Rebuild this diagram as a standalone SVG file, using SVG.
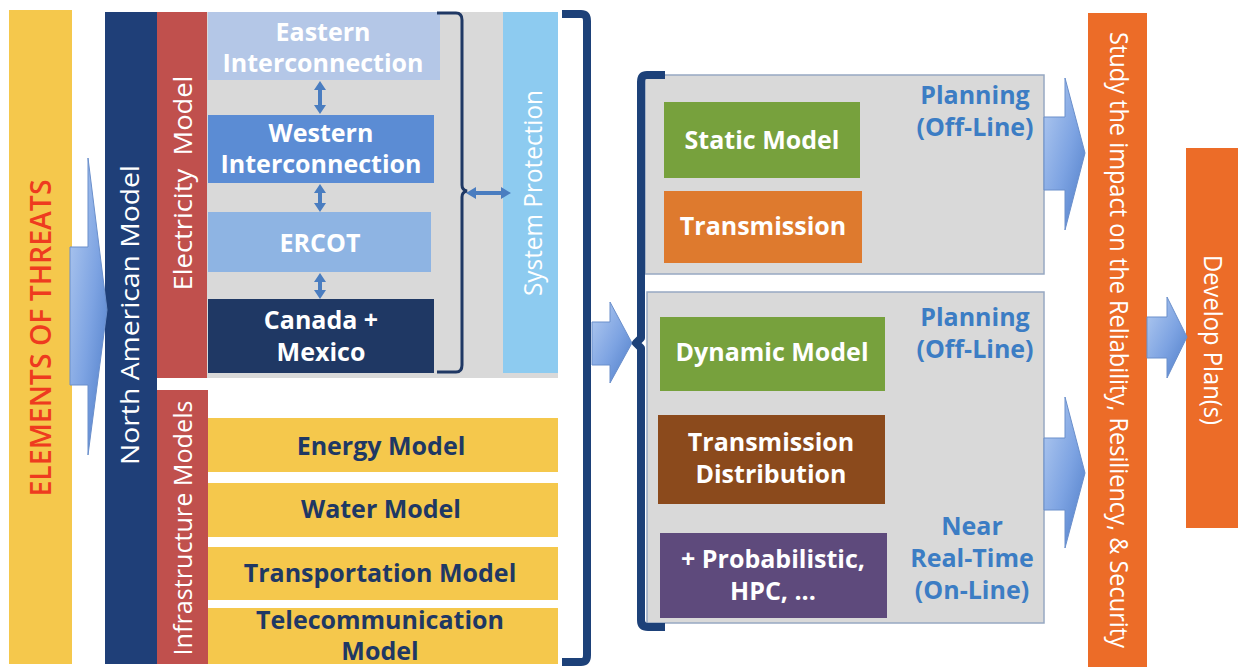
<svg xmlns="http://www.w3.org/2000/svg" width="1243" height="669" viewBox="0 0 1243 669">
<defs>
<linearGradient id="ag" x1="0" y1="0" x2="1" y2="1">
<stop offset="0" stop-color="#B4CCF1"/>
<stop offset="0.55" stop-color="#7DA3E2"/>
<stop offset="1" stop-color="#4C7BC7"/>
</linearGradient>
</defs>
<style>
text{font-family:"Open Sans","Liberation Sans",sans-serif;}
.b{font-weight:700;font-size:25px;text-anchor:middle;}
.w{fill:#FFFFFF;}
.n{fill:#1F3864;}
.p{fill:#3C7DC4;}
.v{font-size:26px;fill:#FFFFFF;text-anchor:middle;}
.arr{fill:url(#ag);stroke:#6A8FCB;stroke-width:1;}
.dbl{fill:#4A7DC0;}
.brk{fill:none;stroke:#1D4179;stroke-width:8;stroke-linejoin:round;}
.brace{fill:none;stroke:#1F3864;stroke-width:3;}
.panel{fill:#D9D9D9;stroke:#97A8C2;stroke-width:1.5;}
</style>
<rect width="1243" height="669" fill="#FFFFFF"/>

<g id="threats">
<rect x="9" y="10" width="63" height="654" fill="#F5C84C"/>
<text transform="translate(41,338) rotate(-90)" y="10" text-anchor="middle" font-size="28" font-weight="600" fill="#EE3B1F" textLength="317" lengthAdjust="spacingAndGlyphs">ELEMENTS OF THREATS</text>
</g>

<g id="north-american">
<rect x="105" y="12" width="52" height="652" fill="#1F3F78"/>
<text class="v" transform="translate(130,315) rotate(-90)" y="9" textLength="300" lengthAdjust="spacingAndGlyphs">North American Model</text>
</g>

<g id="electricity-model">
<rect x="157" y="12" width="51" height="366" fill="#C0504D"/>
<text class="v" transform="translate(183,183) rotate(-90)" y="9" word-spacing="6" textLength="215" lengthAdjust="spacingAndGlyphs">Electricity Model</text>
</g>

<g id="electric-panel">
<rect x="207" y="12" width="351" height="366" fill="#D9D9D9"/>
</g>

<g id="eastern">
<rect x="208" y="12" width="232" height="68" fill="#B4C7E7"/>
<text class="b w" x="323" y="41">Eastern</text>
<text class="b w" x="323" y="72">Interconnection</text>
</g>
<g id="western">
<rect x="208" y="115" width="226" height="68" fill="#5B8CD4"/>
<text class="b w" x="321" y="142">Western</text>
<text class="b w" x="321" y="173">Interconnection</text>
</g>
<g id="ercot">
<rect x="208" y="212" width="223" height="60" fill="#8EB4E3"/>
<text class="b w" x="320" y="252">ERCOT</text>
</g>
<g id="canada-mexico">
<rect x="208" y="299" width="226" height="74" fill="#1F3864"/>
<text class="b w" x="321" y="329">Canada +</text>
<text class="b w" x="321" y="361">Mexico</text>
</g>

<g id="system-protection">
<rect x="503" y="12" width="55" height="361" fill="#8DCBF0"/>
<text class="v" transform="translate(533,193) rotate(-90)" y="9" font-size="24" textLength="206" lengthAdjust="spacingAndGlyphs">System Protection</text>
</g>

<g id="infrastructure-models">
<rect x="157" y="390" width="51" height="274" fill="#C0504D"/>
<text class="v" transform="translate(183,528) rotate(-90)" y="9" textLength="255" lengthAdjust="spacingAndGlyphs">Infrastructure Models</text>
</g>

<g id="energy">
<rect x="208" y="418" width="350" height="54" fill="#F5C84C"/>
<text class="b n" x="381" y="455">Energy Model</text>
</g>
<g id="water">
<rect x="208" y="483" width="350" height="54" fill="#F5C84C"/>
<text class="b n" x="381" y="518">Water Model</text>
</g>
<g id="transportation">
<rect x="208" y="547" width="350" height="53" fill="#F5C84C"/>
<text class="b n" x="380" y="582">Transportation Model</text>
</g>
<g id="telecom">
<rect x="208" y="608" width="350" height="56" fill="#F5C84C"/>
<text class="b n" x="380" y="629">Telecommunication</text>
<text class="b n" x="380" y="660">Model</text>
</g>

<g id="offline-panel">
<rect class="panel" x="645" y="75" width="399" height="199"/>
<text class="b p" x="975" y="104">Planning</text>
<text class="b p" x="975" y="136">(Off-Line)</text>
</g>
<g id="static-model">
<rect x="664" y="102" width="196" height="76" fill="#77A13D"/>
<text class="b w" x="762" y="149">Static Model</text>
</g>
<g id="transmission">
<rect x="664" y="191" width="198" height="72" fill="#DE7A2E"/>
<text class="b w" x="763" y="235">Transmission</text>
</g>

<g id="dynamic-panel">
<rect class="panel" x="647" y="292" width="397" height="331"/>
<text class="b p" x="975" y="326">Planning</text>
<text class="b p" x="975" y="358">(Off-Line)</text>
<text class="b p" x="972" y="535">Near</text>
<text class="b p" x="972" y="567">Real-Time</text>
<text class="b p" x="972" y="599">(On-Line)</text>
</g>
<g id="dynamic-model">
<rect x="660" y="317" width="225" height="74" fill="#77A13D"/>
<text class="b w" x="772" y="361">Dynamic Model</text>
</g>
<g id="transmission-distribution">
<rect x="658" y="415" width="227" height="89" fill="#8B4A1C"/>
<text class="b w" x="771" y="451">Transmission</text>
<text class="b w" x="771" y="483">Distribution</text>
</g>
<g id="probabilistic">
<rect x="660" y="533" width="227" height="85" fill="#5E4A7C"/>
<text class="b w" x="773" y="568">+ Probabilistic,</text>
<text class="b w" x="773" y="600">HPC, ...</text>
</g>

<g id="study">
<rect x="1088" y="13" width="59" height="654" fill="#EC6C28"/>
<text class="v" transform="translate(1117,340) rotate(90)" y="7" font-size="21" textLength="616" lengthAdjust="spacingAndGlyphs">Study the impact on the Reliability, Resiliency, &amp; Security</text>
</g>

<g id="develop-plan">
<rect x="1186" y="148" width="52" height="380" fill="#EC6C28"/>
<text class="v" transform="translate(1212,340) rotate(90)" y="8" font-size="24" textLength="170" lengthAdjust="spacingAndGlyphs">Develop Plan(s)</text>
</g>

<g id="connectors">
<path class="arr" d="M70,247 H88 V158 L107,310 L88,455 V385 H70 Z"/>
<path class="dbl" d="M320,81 L326,90 L322,90 L322,105 L326,105 L320,114 L314,105 L318,105 L318,90 L314,90 Z"/>
<path class="dbl" d="M320,184 L326,193 L322,193 L322,203 L326,203 L320,212 L314,203 L318,203 L318,193 L314,193 Z"/>
<path class="dbl" d="M320,273 L326,282 L322,282 L322,290 L326,290 L320,299 L314,290 L318,290 L318,282 L314,282 Z"/>
<path class="dbl" d="M466,193 L476,187 L476,191 L501,191 L501,187 L511,193 L501,199 L501,195 L476,195 L476,199 Z"/>
<path class="brace" d="M437,13 H456 Q462,13 462,20 V185 Q462,190 467,191 Q462,192 462,197 V365 Q462,372 456,372 H437"/>
<path class="brk" d="M562,14 H581 Q587,14 587,21 V655 Q587,662 581,662 H562"/>
<path class="arr" d="M592,322 H610 V302 L632,343 L610,383 V365 H592 Z"/>
<path class="brk" d="M665,75 H647 Q641,75 641,82 V338 L636,343 L641,348 V620 Q641,627 648,627 H665"/>
<path class="arr" d="M1044,117 H1065 V78 L1085,153 L1065,230 V190 H1044 Z"/>
<path class="arr" d="M1044,438 H1065 V397 L1085,473 L1065,548 V510 H1044 Z"/>
<path class="arr" d="M1147,317 H1167 V297 L1187,337 L1167,378 V358 H1147 Z"/>
</g>
</svg>
